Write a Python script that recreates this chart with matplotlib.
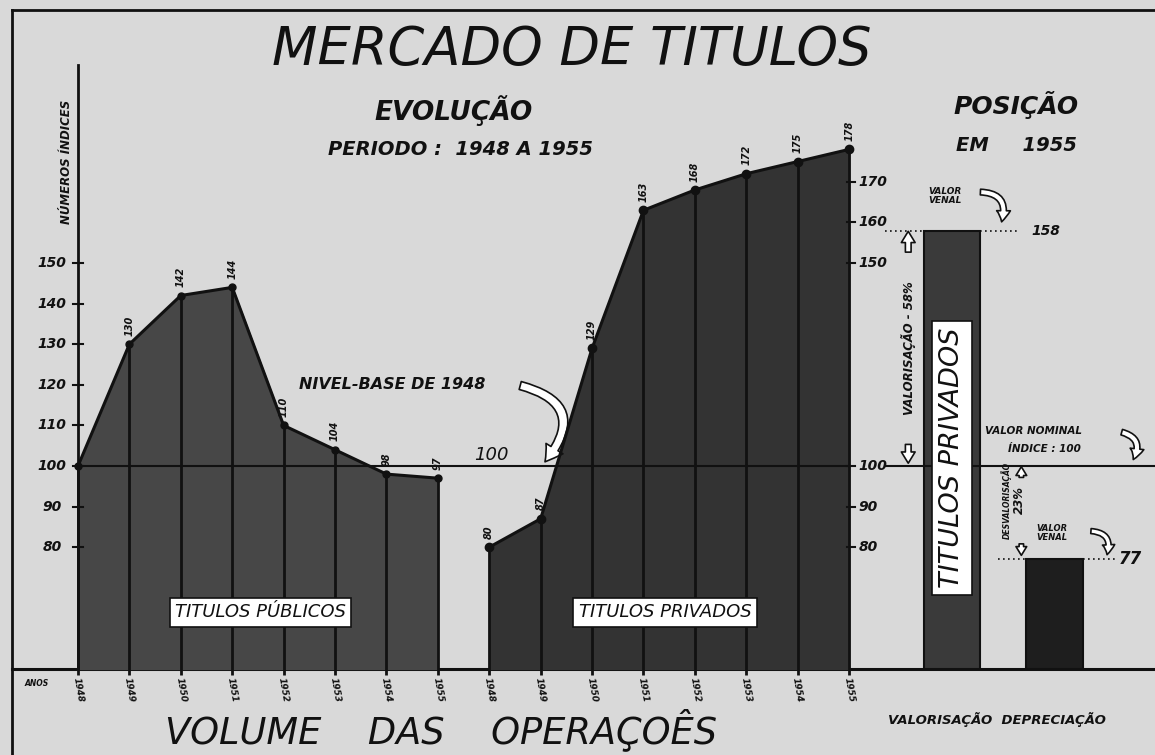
import matplotlib.pyplot as plt
import numpy as np

# data
years = ["1948", "1949", "1950", "1951", "1952", "1953", "1954", "1955"]
publicos = [100, 130, 142, 144, 110, 104, 98, 97]
privados = [80, 87, 129, 163, 168, 172, 175, 178]
posicao_labels = ["TITULOS PRIVADOS", "VALOR VENAL"]
posicao_vals = [158, 77]
left_ticks = [80, 90, 100, 110, 120, 130, 140, 150]
right_ticks = [80, 90, 100, 150, 160, 170]
base = 50

paper = "#d9d9d9"
ink = "#111111"
hand = dict(style="italic", fontweight="bold", color=ink, family="DejaVu Sans")


def hollow_arrow(ax, start, end, rad=0.0, size=1.0):
    ax.annotate("", xy=end, xytext=start,
                arrowprops=dict(arrowstyle="simple,head_width=%.2f,head_length=%.2f,tail_width=%.2f"
                                % (1.1 * size, 0.9 * size, 0.45 * size),
                                connectionstyle="arc3,rad=%.2f" % rad,
                                fc="white", ec=ink, lw=1.2))


fig = plt.figure(figsize=(11.55, 7.55), dpi=100, facecolor=paper)
ax = fig.add_axes([0, 0, 1, 1])
ax.set_facecolor(paper)
ax.set_xlim(-1.517, 20.95)
ax.set_ylim(28.8, 214.8)
ax.axis("off")

x_pub = np.arange(len(years))
x_priv = np.arange(len(years)) + 8

# frame and base lines
ax.plot([-1.28, 21], [212.3, 212.3], color=ink, lw=2)
ax.plot([-1.28, -1.28], [0, 212.3], color=ink, lw=2)
ax.plot([-1.28, 21], [base, base], color=ink, lw=2.2)

# filled areas
ax.fill_between(x_pub, base, publicos, color="#474747", zorder=2)
ax.fill_between(x_priv, base, privados, color="#333333", zorder=2)
ax.plot(x_pub, publicos, color=ink, lw=2.2, marker="o", ms=5, zorder=4)
ax.plot(x_priv, privados, color=ink, lw=2.2, marker="o", ms=6, zorder=4)
ax.vlines(x_pub, base - 1.5, publicos, color=ink, lw=2, zorder=3)
ax.vlines(x_priv, base - 1.5, privados, color=ink, lw=2, zorder=3)

for x, v in zip(x_pub[1:], publicos[1:]):
    ax.annotate(str(v), (x, v), xytext=(0, 6), textcoords="offset points",
                rotation=90, ha="center", va="bottom", fontsize=7, **hand)
for x, v in zip(x_priv, privados):
    ax.annotate(str(v), (x, v), xytext=(0, 6), textcoords="offset points",
                rotation=90, ha="center", va="bottom", fontsize=7, **hand)

# base level 100
ax.plot([0, 15], [100, 100], color=ink, lw=1.5, zorder=3)
ax.plot([15.7, 21], [100, 100], color=ink, lw=1.5, zorder=3)

# left axis
ax.plot([0, 0], [base, 198.8], color=ink, lw=2, zorder=3)
for t in left_ticks:
    ax.plot([-0.1, 0.1], [t, t], color=ink, lw=1.5)
    ax.text(-0.5, t, str(t), ha="center", va="center", fontsize=10, **hand)
ax.text(-0.22, 175, "NÚMEROS ÍNDICES", rotation=90, ha="center", va="center",
        fontsize=8.5, **hand)

# right axis of privados
for t in right_ticks:
    ax.plot([14.95, 15.12], [t, t], color=ink, lw=1.5)
    ax.text(15.18, t, str(t), ha="left", va="center", fontsize=10, **hand)

# position in 1955
xb = [17, 19]
ax.bar(xb, np.array(posicao_vals) - base, bottom=base, width=1.1,
       color=["#3a3a3a", "#1e1e1e"], edgecolor=ink, lw=1.5, zorder=2)
ax.text(xb[0], 102, posicao_labels[0], rotation=90, ha="center", va="center",
        fontsize=19.5, style="italic", color=ink,
        bbox=dict(boxstyle="square,pad=0.25", fc="white", ec=ink, lw=1.2), zorder=5)

ax.plot([15.7, 18.3], [posicao_vals[0]] * 2, color=ink, lw=1.2, ls=(0, (1, 2)))
ax.text(18.55, posicao_vals[0], str(posicao_vals[0]), ha="left", va="center", fontsize=10, **hand)
ax.text(16.55, 166.5, "VALOR\nVENAL", ha="left", va="center", fontsize=6.5, linespacing=1.1, **hand)
hollow_arrow(ax, (17.5, 167.5), (17.95, 159.5), rad=-0.7, size=0.9)

ax.text(16.15, 129, "VALORISAÇÃO - 58%", rotation=90, ha="center", va="center", fontsize=8.5, **hand)
hollow_arrow(ax, (16.15, 152), (16.15, 158.5), size=0.9)
hollow_arrow(ax, (16.15, 106), (16.15, 100), size=0.9)

ax.text(17.65, 108.5, "VALOR NOMINAL", ha="left", va="center", fontsize=7.5, **hand)
ax.text(18.1, 104.3, "ÍNDICE : 100", ha="left", va="center", fontsize=7.5, **hand)
hollow_arrow(ax, (20.25, 108.5), (20.5, 101), rad=-0.7, size=0.9)

ax.plot([17.9, 20.2], [posicao_vals[1]] * 2, color=ink, lw=1.2, ls=(0, (1, 2)))
ax.text(20.25, posicao_vals[1], str(posicao_vals[1]), ha="left", va="center", fontsize=12, **hand)
ax.text(18.05, 91.5, "DESVALORISAÇÃO", rotation=90, ha="center", va="center", fontsize=5.5, **hand)
ax.text(18.32, 91.5, "23%", rotation=90, ha="center", va="center", fontsize=8.5, **hand)
hollow_arrow(ax, (18.35, 96.5), (18.35, 100.5), size=0.7)
hollow_arrow(ax, (18.35, 81.5), (18.35, 77.3), size=0.7)
ax.text(18.95, 83.5, "VALOR\nVENAL", ha="center", va="center", fontsize=6, linespacing=1.1, **hand)
hollow_arrow(ax, (19.65, 84), (20.0, 77.5), rad=-0.7, size=0.8)

# base level annotation
ax.text(4.3, 120, "NIVEL-BASE DE 1948", ha="left", va="center", fontsize=11.5, **hand)
ax.text(8.05, 100.5, "100", ha="center", va="bottom", fontsize=13, style="italic", color=ink)
hollow_arrow(ax, (8.55, 120), (9.05, 100.5), rad=-0.8, size=1.3)

# series labels
box = dict(boxstyle="square,pad=0.3", fc="white", ec=ink, lw=1.2)
ax.text(3.55, 64, "TITULOS PÚBLICOS", ha="center", va="center", fontsize=13,
        style="italic", color=ink, bbox=box, zorder=5)
ax.text(11.42, 64, "TITULOS PRIVADOS", ha="center", va="center", fontsize=13,
        style="italic", color=ink, bbox=box, zorder=5)

# years along the bottom
ax.text(-1.05, 46.5, "ANOS", ha="left", va="center", fontsize=5.5, **hand)
for x, y in zip(np.concatenate([x_pub, x_priv]), years + years):
    ax.text(x, 48, y, rotation=-80, ha="center", va="top", fontsize=6.5, **hand)
ax.text(1.7, 35, "VOLUME    DAS    OPERAÇOÊS", ha="left", va="center",
        fontsize=26.5, style="italic", color=ink)
ax.text(15.75, 37.5, "VALORISAÇÃO  DEPRECIAÇÃO", ha="left", va="center", fontsize=9.5, **hand)

# titles
ax.text(9.6, 202.5, "MERCADO DE TITULOS", ha="center", va="center",
        fontsize=38, style="italic", color=ink)
ax.text(7.3, 187.5, "EVOLUÇÃO", ha="center", va="center", fontsize=19, **hand)
ax.text(7.45, 178, "PERIODO :  1948 A 1955", ha="center", va="center", fontsize=14, **hand)
ax.text(18.25, 189, "POSIÇÃO", ha="center", va="center", fontsize=18, **hand)
ax.text(18.25, 179, "EM     1955", ha="center", va="center", fontsize=14, **hand)

fig.savefig("out.png", dpi=100, facecolor=paper)
